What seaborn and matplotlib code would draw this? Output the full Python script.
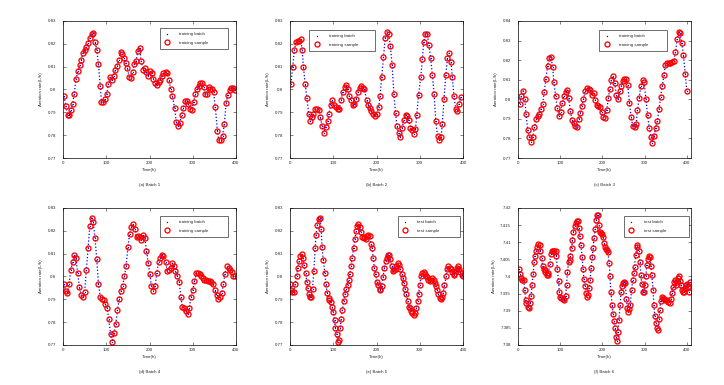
import numpy as np
import pandas as pd
import seaborn as sns
import matplotlib.pyplot as plt
from matplotlib.lines import Line2D
from matplotlib.ticker import FuncFormatter

# ---- data (time in h, aeration rate) ----
t1 = [2, 7, 11, 15, 19, 22, 26, 30, 35, 39, 42, 46, 50, 54, 58, 62, 66, 69, 74, 78,
      82, 86, 89, 93, 97, 101, 105, 109, 113, 117, 121, 125, 129, 133, 137, 140, 145, 149, 153, 157,
      161, 165, 169, 173, 177, 181, 185, 189, 193, 197, 201, 205, 209, 213, 217, 221, 225, 229, 232, 237,
      241, 245, 249, 253, 258, 262, 266, 270, 274, 278, 282, 286, 290, 293, 298, 302, 306, 310, 314, 317,
      321, 325, 329, 333, 337, 340, 344, 348, 352, 357, 360, 365, 369, 373, 377, 381, 385, 389, 393, 397]
v1 = [0.797, 0.7926, 0.789, 0.789, 0.791, 0.7936, 0.798, 0.8048, 0.808, 0.8105,
      0.8128, 0.8158, 0.8172, 0.8187, 0.8202, 0.8224, 0.8244, 0.8246, 0.8209, 0.8174,
      0.811, 0.8017, 0.7945, 0.7945, 0.7958, 0.798, 0.8024, 0.8055, 0.8043, 0.806,
      0.8085, 0.8102, 0.8131, 0.8165, 0.8156, 0.8139, 0.8117, 0.8092, 0.8055, 0.8052,
      0.8077, 0.811, 0.8124, 0.8168, 0.818, 0.8124, 0.8087, 0.8095, 0.8076, 0.806,
      0.808, 0.807, 0.8048, 0.8029, 0.8021, 0.8033, 0.8043, 0.806, 0.807, 0.8076,
      0.807, 0.804, 0.8002, 0.797, 0.7919, 0.7856, 0.7838, 0.7853, 0.789, 0.7919,
      0.7948, 0.7951, 0.7938, 0.7914, 0.7911, 0.7944, 0.798, 0.8002, 0.8017, 0.803,
      0.803, 0.801, 0.798, 0.798, 0.801, 0.800, 0.800, 0.7988, 0.7923, 0.7819,
      0.778, 0.778, 0.7797, 0.785, 0.7941, 0.7977, 0.7999, 0.8007, 0.8007, 0.7996]

t2 = [2, 6, 10, 14, 18, 21, 25, 28, 31, 35, 39, 43, 47, 51, 54, 58, 62, 67, 70, 74,
      78, 83, 87, 90, 94, 98, 102, 106, 110, 114, 118, 122, 126, 129, 133, 137, 141, 146, 149, 153,
      157, 161, 165, 168, 172, 177, 181, 185, 188, 192, 196, 200, 205, 208, 212, 216, 220, 224, 228, 232,
      236, 240, 244, 247, 251, 255, 259, 263, 267, 270, 274, 278, 282, 286, 290, 293, 297, 302, 306, 309,
      313, 317, 321, 325, 329, 333, 337, 341, 345, 349, 352, 356, 360, 364, 368, 372, 375, 379, 383, 387,
      391, 395]
v2 = [0.8026, 0.8097, 0.8171, 0.8207, 0.8211, 0.8214, 0.8219, 0.8171, 0.8097, 0.8026,
      0.7964, 0.7893, 0.786, 0.7878, 0.7893, 0.7915, 0.7915, 0.791, 0.7878, 0.7841,
      0.7811, 0.7836, 0.786, 0.7893, 0.7934, 0.7952, 0.793, 0.7922, 0.7915, 0.7915,
      0.7955, 0.7989, 0.8011, 0.8019, 0.8, 0.797, 0.7952, 0.7934, 0.7937, 0.7959,
      0.7989, 0.8008, 0.8014, 0.8008, 0.8, 0.7955, 0.7934, 0.7919, 0.7907, 0.7893,
      0.7885, 0.7893, 0.7925, 0.797, 0.8056, 0.8141, 0.8226, 0.8253, 0.8241, 0.8189,
      0.8107, 0.7981, 0.7896, 0.7841, 0.7811, 0.7792, 0.7833, 0.7866, 0.789, 0.7885,
      0.7866, 0.7833, 0.7822, 0.7807, 0.7826, 0.789, 0.7974, 0.8053, 0.8133, 0.8207,
      0.8244, 0.8244, 0.8196, 0.8137, 0.8063, 0.7979, 0.786, 0.7796, 0.7781, 0.7792,
      0.7848, 0.7959, 0.8063, 0.8137, 0.8159, 0.8122, 0.8056, 0.797, 0.7915, 0.7904,
      0.7937, 0.7967]

t3 = [4, 8, 12, 16, 19, 23, 27, 31, 35, 39, 43, 47, 50, 54, 58, 62, 66, 70, 74, 78,
      82, 85, 89, 93, 97, 101, 105, 109, 113, 117, 120, 124, 128, 132, 136, 140, 144, 148, 151, 155,
      159, 163, 167, 171, 175, 179, 183, 186, 190, 194, 198, 202, 206, 210, 214, 217, 221, 225, 229, 233,
      237, 241, 245, 249, 252, 256, 260, 264, 268, 272, 276, 280, 283, 287, 291, 295, 299, 303, 307, 311,
      315, 318, 322, 326, 330, 334, 338, 342, 346, 349, 353, 357, 361, 365, 369, 373, 377, 381, 384, 388,
      392, 396, 400]
v3 = [0.7976, 0.8019, 0.8043, 0.80, 0.7923, 0.7843, 0.7805, 0.7782, 0.7808, 0.7856,
      0.7897, 0.7915, 0.7925, 0.7949, 0.7976, 0.8035, 0.8105, 0.8168, 0.8211, 0.8216,
      0.8165, 0.8086, 0.8017, 0.7957, 0.7915, 0.7937, 0.7983, 0.8017, 0.8035, 0.8045,
      0.8005, 0.7942, 0.7894, 0.7877, 0.7863, 0.7856, 0.7897, 0.7932, 0.7966, 0.80,
      0.804, 0.8057, 0.8052, 0.8045, 0.8023, 0.8031, 0.7997, 0.7971, 0.7966, 0.7959,
      0.7937, 0.7908, 0.7903, 0.7945, 0.8005, 0.8052, 0.8096, 0.812, 0.8083, 0.8023,
      0.80, 0.804, 0.8069, 0.8091, 0.8103, 0.8103, 0.8074, 0.7983, 0.7908, 0.7863,
      0.7856, 0.7873, 0.7945, 0.8005, 0.8069, 0.8096, 0.8086, 0.80, 0.792, 0.7851,
      0.7805, 0.7777, 0.7812, 0.7851, 0.789, 0.7949, 0.8014, 0.8069, 0.8126, 0.8177,
      0.8186, 0.8186, 0.8186, 0.8189, 0.8194, 0.824, 0.8306, 0.8343, 0.8337, 0.8285,
      0.8228, 0.8131, 0.8043]

t4 = [2, 6, 10, 14, 18, 22, 26, 30, 34, 38, 42, 46, 50, 54, 58, 62, 66, 70, 74, 78,
      82, 86, 90, 94, 98, 102, 106, 110, 114, 118, 122, 126, 130, 134, 138, 142, 146, 150, 154, 158,
      162, 166, 170, 174, 177, 181, 185, 189, 193, 197, 201, 204, 209, 213, 217, 221, 225, 229, 232, 237,
      241, 245, 249, 253, 256, 260, 264, 269, 272, 276, 280, 284, 288, 292, 296, 300, 304, 308, 312, 316,
      320, 323, 327, 331, 335, 339, 343, 347, 351, 355, 359, 363, 367, 371, 374, 379, 383, 387, 391, 394,
      398]
v4 = [0.7966, 0.7937, 0.7927, 0.7966, 0.8028, 0.8063, 0.8095, 0.808, 0.8015, 0.7952,
      0.7919, 0.7908, 0.7934, 0.8029, 0.8124, 0.822, 0.8256, 0.8239, 0.8168, 0.8076,
      0.7969, 0.7912, 0.7902, 0.7897, 0.7878, 0.7861, 0.7812, 0.7747, 0.7714, 0.7751,
      0.779, 0.7853, 0.7902, 0.7937, 0.7959, 0.80, 0.8047, 0.8127, 0.8186, 0.8215,
      0.823, 0.8209, 0.8171, 0.8176, 0.8171, 0.8161, 0.8183, 0.8168, 0.8113, 0.8058,
      0.801, 0.796, 0.7938, 0.796, 0.8015, 0.8063, 0.8083, 0.8095, 0.8088, 0.8063,
      0.8025, 0.8029, 0.8039, 0.8058, 0.8044, 0.8025, 0.8003, 0.7975, 0.7912, 0.7868,
      0.7861, 0.7849, 0.7834, 0.7861, 0.7912, 0.7941, 0.7978, 0.8015, 0.8015, 0.801,
      0.8004, 0.7993, 0.7985, 0.7985, 0.7981, 0.7981, 0.7975, 0.7966, 0.7941, 0.7919,
      0.7902, 0.7912, 0.7927, 0.7966, 0.801, 0.8044, 0.8037, 0.8029, 0.8019, 0.8004,
      0.80]

t5 = [0, 2, 5, 9, 12, 15, 18, 21, 24, 27, 30, 32, 36, 39, 41, 44, 47, 49, 52, 55,
      58, 60, 63, 66, 69, 72, 74, 77, 80, 83, 86, 89, 91, 94, 97, 100, 103, 105, 108, 110,
      113, 116, 118, 121, 124, 127, 130, 133, 136, 138, 141, 144, 147, 150, 153, 155, 158, 161, 164, 167,
      170, 172, 175, 178, 181, 184, 187, 190, 192, 195, 198, 201, 204, 207, 209, 212, 215, 218, 221, 223,
      226, 229, 232, 235, 238, 241, 244, 246, 249, 252, 255, 258, 261, 263, 266, 269, 272, 275, 278, 280,
      283, 286, 289, 292, 295, 297, 300, 303, 306, 309, 312, 315, 317, 320, 323, 326, 329, 332, 334, 337,
      340, 343, 346, 349, 351, 354, 357, 361, 363, 366, 369, 371, 374, 378, 380, 383, 386, 389, 391, 394,
      398, 400]
v5 = [0.7966, 0.7941, 0.7934, 0.7931, 0.7966, 0.8004, 0.8039, 0.8066, 0.8088, 0.8098,
      0.8083, 0.8051, 0.8015, 0.7975, 0.7949, 0.7922, 0.7908, 0.7912, 0.7946, 0.8025,
      0.8124, 0.8183, 0.8224, 0.8253, 0.8256, 0.8209, 0.8127, 0.8073, 0.8015, 0.7966,
      0.7927, 0.7905, 0.7897, 0.7887, 0.7868, 0.7843, 0.781, 0.7776, 0.7747, 0.7714,
      0.7722, 0.7773, 0.7814, 0.7854, 0.7893, 0.7922, 0.7946, 0.7963, 0.7985, 0.801,
      0.8048, 0.8083, 0.8124, 0.8165, 0.8198, 0.822, 0.823, 0.8215, 0.8195, 0.8171,
      0.8168, 0.8171, 0.8165, 0.8176, 0.8183, 0.8176, 0.8142, 0.8124, 0.808, 0.8039,
      0.801, 0.7975, 0.7963, 0.7946, 0.7941, 0.796, 0.7996, 0.8039, 0.8069, 0.8083,
      0.8095, 0.8092, 0.8078, 0.8048, 0.8025, 0.8029, 0.8034, 0.8048, 0.8058, 0.8051,
      0.8034, 0.801, 0.7993, 0.7971, 0.7946, 0.7922, 0.7893, 0.7868, 0.7861, 0.7849,
      0.7839, 0.7832, 0.7839, 0.7861, 0.7893, 0.7922, 0.7963, 0.80, 0.8015, 0.8019,
      0.801, 0.80, 0.7996, 0.7985, 0.7981, 0.7985, 0.7993, 0.7985, 0.7971, 0.796,
      0.7941, 0.7922, 0.7905, 0.7902, 0.7908, 0.7927, 0.7963, 0.80, 0.8034, 0.8044,
      0.8039, 0.8034, 0.8019, 0.801, 0.8007, 0.8022, 0.8039, 0.8044, 0.8034, 0.8019,
      0.8007, 0.80]

t6 = [2, 5, 7, 10, 13, 16, 18, 20, 23, 26, 29, 31, 33, 36, 38, 40, 43, 46, 48, 51,
      53, 56, 58, 61, 63, 65, 68, 70, 72, 75, 78, 80, 83, 86, 89, 91, 93, 96, 98, 100,
      103, 107, 110, 113, 115, 117, 120, 122, 124, 127, 129, 131, 134, 137, 139, 142, 144, 146, 149, 152,
      154, 156, 159, 161, 163, 166, 168, 171, 173, 176, 178, 180, 183, 185, 187, 190, 192, 195, 197, 199,
      202, 204, 206, 209, 211, 213, 216, 218, 220, 223, 225, 227, 230, 232, 234, 237, 239, 242, 244, 247,
      249, 251, 254, 257, 259, 261, 264, 266, 269, 272, 274, 276, 279, 281, 283, 286, 289, 291, 293, 296,
      298, 300, 303, 305, 307, 310, 312, 315, 317, 320, 322, 324, 327, 329, 331, 334, 336, 338, 341, 343,
      346, 349, 352, 356, 359, 362, 365, 367, 370, 372, 374, 377, 379, 381, 384, 386, 388, 391, 393, 395,
      398, 400, 402, 405, 407]
v6 = [7.4022, 7.4007, 7.3995, 7.399, 7.399, 7.3961, 7.3932, 7.3922, 7.3912, 7.3909,
      7.3922, 7.3944, 7.3976, 7.4007, 7.4042, 7.4061, 7.4075, 7.4085, 7.4095, 7.4091,
      7.4075, 7.4054, 7.4032, 7.4022, 7.402, 7.4013, 7.4005, 7.4003, 7.401, 7.4036,
      7.4065, 7.4073, 7.4075, 7.4075, 7.4073, 7.4059, 7.4022, 7.3987, 7.3954, 7.3941,
      7.3937, 7.3935, 7.3932, 7.3944, 7.3976, 7.4013, 7.4042, 7.4049, 7.4061, 7.4083,
      7.4107, 7.413, 7.4146, 7.4156, 7.4161, 7.4161, 7.4141, 7.4117, 7.4091, 7.4056,
      7.4022, 7.3993, 7.3971, 7.3951, 7.3941, 7.3946, 7.3966, 7.399, 7.4026, 7.4056,
      7.4083, 7.4112, 7.4139, 7.4166, 7.4179, 7.4179, 7.4151, 7.413, 7.4127, 7.4124,
      7.4114, 7.4098, 7.4085, 7.4081, 7.4078, 7.4071, 7.4039, 7.40, 7.3956, 7.3917,
      7.389, 7.387, 7.3849, 7.3824, 7.3812, 7.3837, 7.3873, 7.3917, 7.3956, 7.3971,
      7.398, 7.3983, 7.398, 7.3935, 7.3909, 7.3896, 7.3905, 7.3917, 7.3961, 7.399,
      7.401, 7.4029, 7.4063, 7.4085, 7.4093, 7.4073, 7.4042, 7.4005, 7.3978, 7.3956,
      7.3954, 7.3976, 7.40, 7.4034, 7.4052, 7.4059, 7.4056, 7.4032, 7.4005, 7.3961,
      7.3917, 7.3886, 7.3863, 7.3851, 7.3844, 7.3876, 7.3902, 7.3929, 7.3939, 7.3937,
      7.3935, 7.3932, 7.3932, 7.3925, 7.3922, 7.3935, 7.3951, 7.3968, 7.3983, 7.399,
      7.3976, 7.3985, 7.3995, 7.4002, 7.3987, 7.3974, 7.3961, 7.3954, 7.3956, 7.3966,
      7.3974, 7.3978, 7.3968, 7.3956, 7.3983]

captions = ["(a) Batch 1", "(b) Batch 2", "(c) Batch 3", "(d) Batch 4", "(e) Batch 5", "(f) Batch 6"]
batch_names = ["training batch"] * 4 + ["test batch"] * 2
sample_names = ["training sample"] * 4 + ["test sample"] * 2
yticks_a = [0.77, 0.78, 0.79, 0.80, 0.81, 0.82, 0.83]
yticks_c = [0.77, 0.78, 0.79, 0.80, 0.81, 0.82, 0.83, 0.84]
yticks_f = [7.38, 7.385, 7.39, 7.395, 7.40, 7.405, 7.41, 7.415, 7.42]
xticks = [0, 100, 200, 300, 400]

series = [(t1, v1), (t2, v2), (t3, v3), (t4, v4), (t5, v5), (t6, v6)]
yticks_all = [yticks_a, yticks_a, yticks_c, yticks_a, yticks_a, yticks_f]
xmax = [400, 400, 410, 400, 400, 410]

sns.set_style("ticks")
plt.rcParams['font.family'] = ['Liberation Sans', 'DejaVu Sans']

fig = plt.figure(figsize=(7.24, 3.85), dpi=100)
lefts = [0.087, 0.4006, 0.7155]
bottoms = [0.5896, 0.1039]
w, h = 0.239, 0.356
# legend boxes in axes fraction (x0, y0, width, height)
leg_boxes = [(0.547, 0.82, 0.418, 0.145), (0.098, 0.81, 0.408, 0.14), (0.457, 0.80, 0.417, 0.15),
             (0.547, 0.81, 0.418, 0.146), (0.609, 0.81, 0.385, 0.146), (0.60, 0.81, 0.40, 0.146)]

fs = 3.2
for i, (t, v) in enumerate(series):
    ax = fig.add_axes([lefts[i % 3], bottoms[i // 3], w, h])
    df = pd.DataFrame({"Time(h)": t, "rate": v})
    sns.lineplot(data=df, x="Time(h)", y="rate", ax=ax, color="blue", linestyle=":",
                 linewidth=0.9, marker=".", markersize=1.8, markeredgewidth=0)
    sns.lineplot(data=df, x="Time(h)", y="rate", ax=ax, color="red", linestyle="none",
                 marker="o", markersize=3.6, markerfacecolor="none", markeredgecolor="red",
                 markeredgewidth=0.95)
    ax.set_xlim(0, xmax[i])
    ax.set_ylim(yticks_all[i][0], yticks_all[i][-1])
    ax.set_xticks(xticks)
    ax.set_yticks(yticks_all[i])
    ax.yaxis.set_major_formatter(FuncFormatter(lambda val, _: f"{val:g}"))
    ax.tick_params(direction="in", top=True, right=True, length=2, width=0.4,
                   labelsize=fs, pad=2.5)
    ax.tick_params(axis="y", pad=5)
    for s in ax.spines.values():
        s.set_linewidth(0.5)
        s.set_color("black")
    ax.set_xlabel("Time(h)", fontsize=fs, labelpad=2)
    ax.set_ylabel("Aeration rate(L/h)", fontsize=fs, labelpad=3)
    ax.text(0.5, -0.2, captions[i], transform=ax.transAxes, ha="center", va="center", fontsize=fs)

    handles = [Line2D([], [], color="blue", marker=".", linestyle="none", markersize=2, markeredgewidth=0),
               Line2D([], [], color="red", marker="o", linestyle="none", markersize=3.6,
                      markerfacecolor="none", markeredgewidth=0.95)]
    leg = ax.legend(handles, [batch_names[i], sample_names[i]], loc="upper left",
                    bbox_to_anchor=leg_boxes[i], mode="expand", fontsize=fs, frameon=True,
                    fancybox=False, edgecolor="black", borderpad=0.9, labelspacing=1.0,
                    handlelength=1.5, handletextpad=2.0)
    leg.get_frame().set_linewidth(0.5)

fig.savefig("out.png", dpi=100)
